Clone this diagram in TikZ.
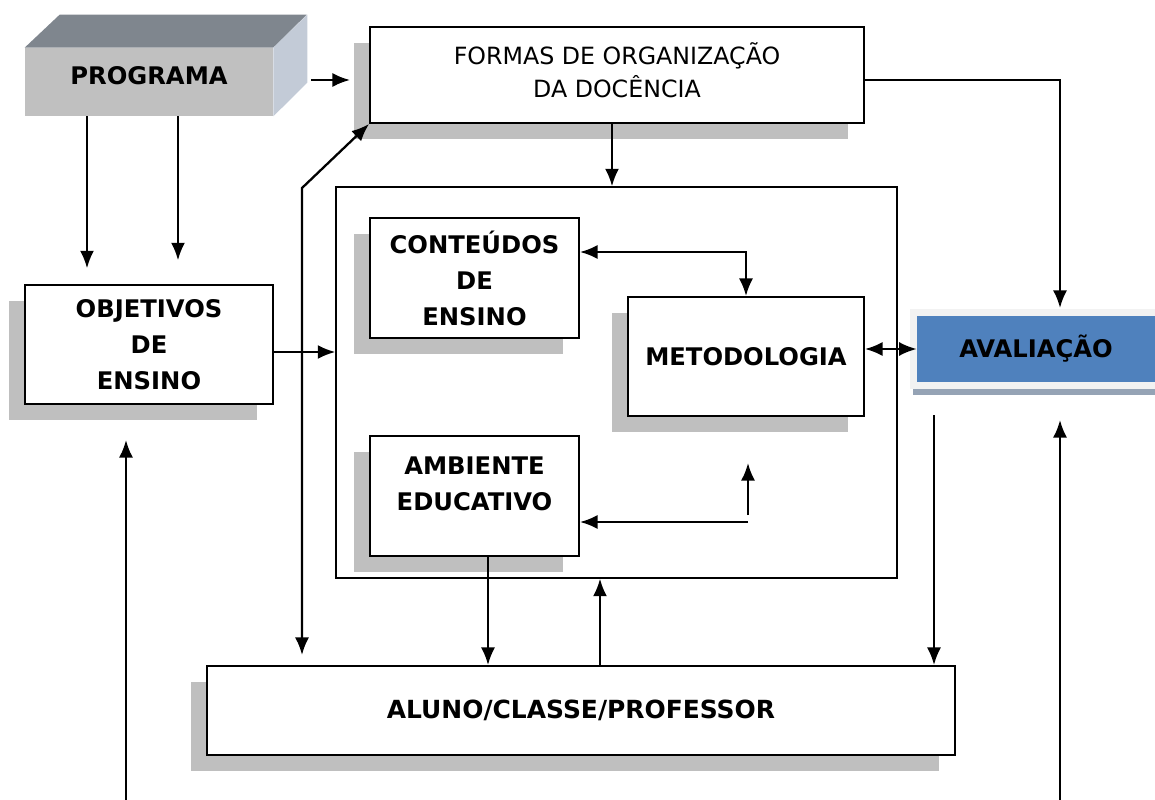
\documentclass[tikz,border=0pt]{standalone}
\usepackage{fontspec}
\setmainfont{DejaVu Sans}
\usepackage{tikz}
\usetikzlibrary{calc,arrows.meta,shadows}

\definecolor{shadowgray}{HTML}{BFBFBF}
\definecolor{progfront}{HTML}{C0C0C0}
\definecolor{progtop}{HTML}{7F868E}
\definecolor{progside}{HTML}{C3CBD7}
\definecolor{avalblue}{HTML}{4F81BD}
\definecolor{avalframe}{HTML}{F2F2F2}
\definecolor{avalshadow}{HTML}{95A3B5}

\begin{document}
\begin{tikzpicture}[x=0.02cm, y=-0.02cm, >={Latex[length=10pt,width=8pt]},
    font=\fontsize{13.5}{19}\selectfont,
    box/.style={draw, line width=1.1pt, fill=white, inner sep=0pt, align=center,
      drop shadow={shadow xshift=-0.32cm, shadow yshift=-0.32cm, fill=shadowgray, opacity=1}},
    boldtext/.style={font=\fontsize{13.8}{20.5}\selectfont\bfseries},
    arr/.style={->, line width=1.3pt},
    arrboth/.style={<->, line width=1.3pt}]
    \useasboundingbox (0,0) rectangle (1155,800);

    % Programa (3D block)
    \node[fill=progfront, minimum width=4.96cm, minimum height=1.36cm, text depth=7pt, boldtext] (prog) at (149,82) {PROGRAMA};
    \fill[progtop] (prog.north west) -- ++(35,-33) -- ++(247,0) -- (prog.north east) -- cycle;
    \fill[progside] (prog.north east) -- ++(34,-33) -- ++(0,68) -- (prog.south east) -- cycle;

    % Boxes
    \node[box, minimum width=9.88cm, minimum height=1.92cm,
      label={[align=center, yshift=0.1cm]center:FORMAS DE ORGANIZAÇÃO\\DA DOCÊNCIA}] (formas) at (617,75) {};
    \node[draw, line width=0.8pt, minimum width=11.22cm, minimum height=7.82cm] (core) at (616.5,382.5) {};
    \node[box, minimum width=4.18cm, minimum height=2.4cm, boldtext] (conteudos) at (474.5,278) {CONTEÚDOS\\DE\\ENSINO};
    \node[box, minimum width=4.72cm, minimum height=2.38cm, boldtext] (metodologia) at (746,356.5) {METODOLOGIA};
    \node[box, minimum width=4.18cm, minimum height=2.4cm,
      label={[align=center, yshift=0.24cm, boldtext]center:AMBIENTE\\EDUCATIVO}] (ambiente) at (474.5,496) {};
    \node[box, minimum width=4.96cm, minimum height=2.38cm, boldtext] (objetivos) at (149,344.5) {OBJETIVOS\\DE\\ENSINO};
    \node[box, minimum width=14.96cm, minimum height=1.78cm, font=\fontsize{14.2}{20}\selectfont\bfseries] (aluno) at (581,710.5) {ALUNO/CLASSE/PROFESSOR};

    % Avaliacao
    \fill[avalframe] (910,309) rectangle (1160,389);
    \fill[avalshadow] (913,389) rectangle (1160,395);
    \node[fill=avalblue, minimum width=4.76cm, minimum height=1.32cm, boldtext] (aval) at (1036,349) {AVALIAÇÃO};

    % Free ends
    \coordinate (progout) at (311,80);
    \coordinate (formasin) at (350,80);
    \coordinate (avalin) at (1060,308);
    \coordinate (bend) at (302,188);
    \coordinate (alunoup) at (302,655);
    \coordinate (loopstart) at (748,522);
    \coordinate (upstart) at (748,515);
    \coordinate (upend) at (748,463);
    \coordinate (avaldown) at (934,415);
    \coordinate (leftbottom) at (126,800);
    \coordinate (lefttop) at (126,440);
    \coordinate (rightbottom) at (1060,800);
    \coordinate (righttop) at (1060,420);

    % Connectors
    \draw[arr] (progout) -- (formasin);
    \draw[arr] ([xshift=-1.24cm]prog.south) -- ++(0,152);
    \draw[arr] ([xshift=0.58cm]prog.south) -- ++(0,144);
    \draw[arr] ([xshift=-0.1cm]formas.south) -- ([xshift=-0.1cm]formas.south |- core.north);
    \draw[arr] ([yshift=-0.1cm]formas.east) -| (avalin);
    \draw[arr] ([yshift=-0.15cm]objetivos.east) -- ([yshift=-0.15cm]objetivos.east -| core.west);
    \draw[arrboth] (alunoup) -- (bend) -- (formas.south west);
    \draw[arrboth] ([yshift=0.52cm]conteudos.east) -| (metodologia.north);
    \draw[arrboth] (metodologia.east |- aval.west) -- (aval.west);
    \draw[arr] (loopstart) -- (loopstart -| ambiente.east);
    \draw[arr] (upstart) -- (upend);
    \draw[arr] ([xshift=0.27cm]ambiente.south) -- ([xshift=0.27cm]ambiente.south |- aluno.north);
    \draw[arr] ([xshift=0.38cm]aluno.north) -- ([xshift=0.38cm]aluno.north |- core.south);
    \draw[arr] (avaldown) -- (avaldown |- aluno.north);
    \draw[arr] (leftbottom) -- (lefttop);
    \draw[arr] (rightbottom) -- (righttop);
\end{tikzpicture}
\end{document}
